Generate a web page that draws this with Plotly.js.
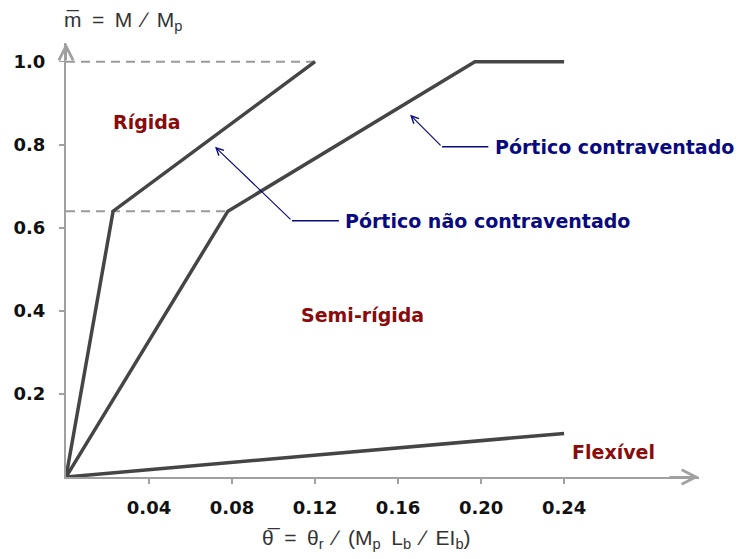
<!DOCTYPE html>
<html>
<head>
<meta charset="utf-8">
<script src="https://cdn.plot.ly/plotly-3.0.1.min.js"></script>
<style>html,body{margin:0;padding:0;background:#fff;}#chart{width:741px;height:559px;}</style>
</head>
<body>
<div id="chart"></div>
<script>
// Limit curves (theta_bar, m_bar)
const unbracedX = [0, 0.0227, 0.12];
const unbracedY = [0, 0.64, 1.0];
const bracedX = [0, 0.078, 0.197, 0.24];
const bracedY = [0, 0.64, 1.0, 1.0];
const flexX = [0, 0.24];
const flexY = [0, 0.105];
// Dashed reference levels
const dashTopX = [0, 0.12];
const dashTopY = [1.0, 1.0];
const dashMidX = [0, 0.078];
const dashMidY = [0.64, 0.64];
// Ticks
const xTickVals = [0.04, 0.08, 0.12, 0.16, 0.20, 0.24];
const xTickText = ["0.04", "0.08", "0.12", "0.16", "0.20", "0.24"];
const yTickVals = [0.2, 0.4, 0.6, 0.8, 1.0];
const yTickText = ["0.2", "0.4", "0.6", "0.8", "1.0"];
// Region labels
const regionNames = ["Rígida", "Semi-rígida", "Flexível"];
const regionX = [0.039, 0.1431, 0.2636];
const regionY = [0.855, 0.39, 0.06];
// Callouts: text, text anchor, corner, tip
const calloutText = ["Pórtico contraventado", "Pórtico não contraventado"];
const calloutTextX = [0.2055, 0.1335];
const calloutTextY = [0.795, 0.617];
const calloutCornerX = [0.1812, 0.1089];
const calloutCornerY = [0.795, 0.617];
const calloutTipX = [0.1658, 0.0718];
const calloutTipY = [0.872, 0.795];

const curveColor = '#454545';
const dashColor = '#9a9a9a';
const axisColor = '#a0a0a0';
const red = '#8b0a0a';
const navy = '#0a0a80';
const tickFont = {family: 'DejaVu Sans, Verdana, sans-serif', size: 18, color: '#111', weight: 'bold'};
const titleFont = {family: 'Liberation Sans, Arial, sans-serif', size: 21, color: '#333'};
const SP = '\u2002';

const traces = [
  {x: dashTopX, y: dashTopY, mode: 'lines', line: {color: dashColor, width: 2, dash: '9px,6px'}, hoverinfo: 'skip'},
  {x: dashMidX, y: dashMidY, mode: 'lines', line: {color: dashColor, width: 2, dash: '9px,6px'}, hoverinfo: 'skip'},
  {x: unbracedX, y: unbracedY, mode: 'lines', line: {color: curveColor, width: 3.5}, cliponaxis: false},
  {x: bracedX, y: bracedY, mode: 'lines', line: {color: curveColor, width: 3.5}, cliponaxis: false},
  {x: flexX, y: flexY, mode: 'lines', line: {color: curveColor, width: 3.5}, cliponaxis: false}
];

const annotations = [];
const shapes = [];
regionNames.forEach((t, i) => {
  annotations.push({x: regionX[i], y: regionY[i], xref: 'x', yref: 'y', text: '<b>' + t + '</b>', showarrow: false,
    font: {family: 'DejaVu Sans, Verdana, sans-serif', size: 19, color: red}, xanchor: 'center', yanchor: 'middle'});
});
calloutText.forEach((t, i) => {
  annotations.push({x: calloutTextX[i], y: calloutTextY[i], xref: 'x', yref: 'y', text: '<b>' + t + '</b>', showarrow: false,
    font: {family: 'DejaVu Sans, Verdana, sans-serif', size: 19, color: navy}, xanchor: 'left', yanchor: 'middle'});
  shapes.push({type: 'line', xref: 'x', yref: 'y', x0: calloutCornerX[i], y0: calloutCornerY[i], x1: calloutTextX[i] - 0.002, y1: calloutTextY[i],
    line: {color: navy, width: 1.5}});
  annotations.push({x: calloutTipX[i], y: calloutTipY[i], xref: 'x', yref: 'y', ax: calloutCornerX[i], ay: calloutCornerY[i],
    axref: 'x', ayref: 'y', showarrow: true, arrowhead: 5, arrowsize: 1.2, arrowwidth: 1.2, arrowcolor: navy, text: ''});
});
// axis arrows
annotations.push({x: 0.305, y: 0, xref: 'x', yref: 'y', ax: 0.29, ay: 0, axref: 'x', ayref: 'y', showarrow: true,
  arrowhead: 5, arrowsize: 1.4, arrowwidth: 2, arrowcolor: axisColor, text: ''});
annotations.push({x: 0, y: 1.045, xref: 'x', yref: 'y', ax: 0, ay: 1.0, axref: 'x', ayref: 'y', showarrow: true,
  arrowhead: 5, arrowsize: 1.4, arrowwidth: 2, arrowcolor: axisColor, text: ''});
// axis titles (paper coordinates)
annotations.push({x: -0.0063, y: 1.05, xref: 'paper', yref: 'paper', xanchor: 'left', yanchor: 'middle', showarrow: false,
  text: 'm\u0305' + SP + '=' + SP + 'M' + SP + '\u2215' + SP + 'M<sub>p</sub>', font: titleFont});
annotations.push({x: 0.474, y: -0.143, xref: 'paper', yref: 'paper', xanchor: 'center', yanchor: 'middle', showarrow: false,
  text: '\u03b8\u0305' + SP + '=' + SP + '\u03b8<sub>r</sub>' + SP + '\u2215' + SP + '(M<sub>p</sub>' + SP + 'L<sub>b</sub>' + SP + '\u2215' + SP + 'EI<sub>b</sub>)', font: titleFont});

const layout = {
  width: 741, height: 559,
  margin: {l: 66, r: 42, t: 43, b: 82},
  paper_bgcolor: '#fff', plot_bgcolor: '#fff',
  showlegend: false,
  xaxis: {range: [0, 0.305], showgrid: false, zeroline: false, showline: true, linecolor: axisColor, linewidth: 2,
    ticks: 'outside', ticklen: 5, tickcolor: axisColor, tickwidth: 1.5, tickvals: xTickVals, ticktext: xTickText,
    tickfont: tickFont, ticklabelstandoff: 8, fixedrange: true},
  yaxis: {range: [0, 1.045], showgrid: false, zeroline: false, showline: true, linecolor: axisColor, linewidth: 2,
    ticks: 'outside', ticklen: 5, tickcolor: axisColor, tickwidth: 1.5, tickvals: yTickVals, ticktext: yTickText,
    tickfont: tickFont, ticklabelstandoff: 10, fixedrange: true},
  annotations: annotations,
  shapes: shapes
};
Plotly.newPlot('chart', traces, layout, {staticPlot: true, displayModeBar: false});
</script>
</body>
</html>
